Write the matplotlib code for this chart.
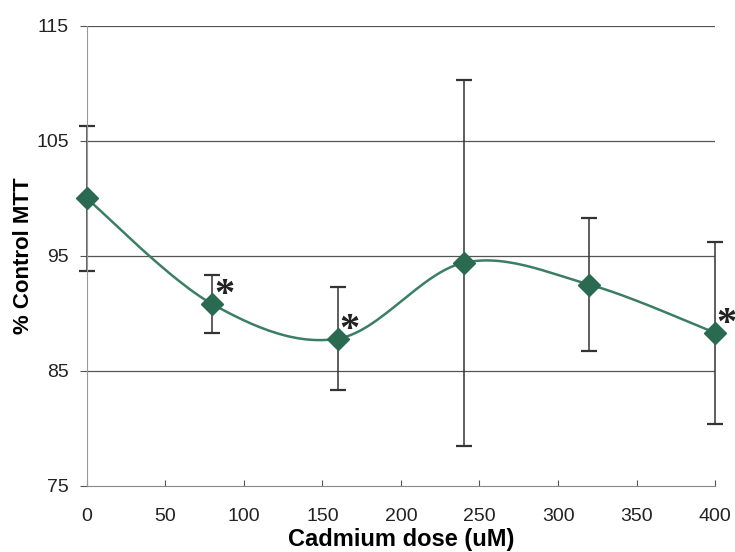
import numpy as np
import matplotlib.pyplot as plt

plt.rcParams['font.family'] = ['Liberation Sans', 'DejaVu Sans']

dosis = [0, 80, 160, 240, 320, 400]
mtt = [100.0, 90.8, 87.8, 94.4, 92.5, 88.3]
error = [6.3, 2.5, 4.5, 15.9, 5.8, 7.9]
signif = [False, True, True, False, False, True]
yticks = [75, 85, 95, 105, 115]
xticks = [0, 50, 100, 150, 200, 250, 300, 350, 400]

color_linea = '#3b7e64'
color_marca = '#2a6a50'


def suavizar(x, y, n=30):
    # curva suavizada tipo Excel (bezier con tension 1/6)
    x = np.asarray(x, float)
    y = np.asarray(y, float)
    px = np.concatenate([[x[0]], x, [x[-1]]])
    py = np.concatenate([[y[0]], y, [y[-1]]])
    xs, ys = [], []
    t = np.linspace(0, 1, n)
    for i in range(1, len(px) - 2):
        p0 = np.array([px[i], py[i]])
        p3 = np.array([px[i + 1], py[i + 1]])
        p1 = p0 + (np.array([px[i + 1], py[i + 1]]) - np.array([px[i - 1], py[i - 1]])) / 6
        p2 = p3 - (np.array([px[i + 2], py[i + 2]]) - np.array([px[i], py[i]])) / 6
        b = ((1 - t) ** 3)[:, None] * p0 + (3 * (1 - t) ** 2 * t)[:, None] * p1 \
            + (3 * (1 - t) * t ** 2)[:, None] * p2 + (t ** 3)[:, None] * p3
        xs.extend(b[:, 0])
        ys.extend(b[:, 1])
    return xs, ys


fig = plt.figure(figsize=(7.35, 5.52), dpi=100)
ax = fig.add_axes([0.118, 0.12, 0.855, 0.833])

for yv in yticks[1:]:
    ax.axhline(yv, color='#555555', lw=0.9, zorder=1)

barras = ax.errorbar(dosis, mtt, yerr=error, fmt='none', ecolor='#333333',
                     elinewidth=1.1, capsize=6, capthick=1.6, zorder=2)
for parte in barras.lines[1] + barras.lines[2]:
    parte.set_clip_on(False)
xs, ys = suavizar(dosis, mtt)
ax.plot(xs, ys, color=color_linea, lw=1.8, zorder=3)
ax.plot(dosis, mtt, linestyle='none', marker='D', markersize=11,
        color=color_marca, zorder=4, clip_on=False)

for xv, yv, s in zip(dosis, mtt, signif):
    if s:
        ax.text(xv + 1, yv - 0.9, '*', fontsize=29, family='Liberation Serif',
                fontweight='bold', color='#222222', ha='left', va='bottom',
                zorder=5, clip_on=False)

ax.set_xlim(0, 400)
ax.set_ylim(75, 115)
ax.set_xticks(xticks)
ax.set_yticks(yticks)
ax.tick_params(axis='both', labelsize=14, colors='#555555', length=5, width=0.8)
ax.tick_params(axis='y', pad=8)
ax.tick_params(axis='x', direction='in', length=4, pad=16)
for lab in ax.get_xticklabels() + ax.get_yticklabels():
    lab.set_color('#222222')

ax.spines['top'].set_visible(False)
ax.spines['right'].set_visible(False)
ax.spines['left'].set_color('#999999')
ax.spines['bottom'].set_color('#888888')

ax.set_xlabel('Cadmium dose (uM)', fontsize=17, fontweight='bold', labelpad=2)
ax.set_ylabel('% Control MTT', fontsize=16, fontweight='bold', labelpad=1.5)

fig.savefig('out.png', dpi=100)
